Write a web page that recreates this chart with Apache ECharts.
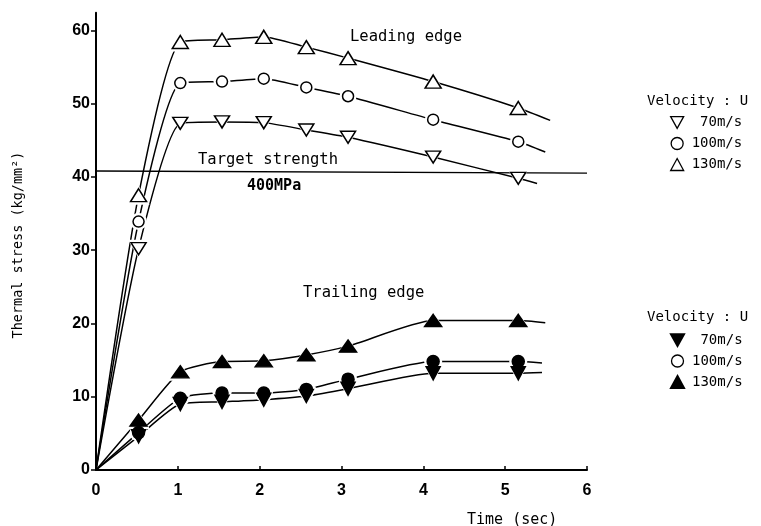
<!DOCTYPE html>
<html><head><meta charset="utf-8">
<script src="https://cdn.jsdelivr.net/npm/echarts@6/dist/echarts.min.js"></script>
<style>html,body{margin:0;padding:0;background:#fff}#c{width:761px;height:526px}</style>
</head><body><div id="c"></div>
<script>
const times = [0, 0.52, 1.03, 1.54, 2.05, 2.57, 3.08, 4.12, 5.16];
// Leading edge thermal stress (kg/mm2)
const lead70  = [0, 30.2, 47.3, 47.5, 47.4, 46.4, 45.4, 42.7, 39.8];
const lead100 = [0, 33.9, 52.8, 53.0, 53.4, 52.2, 51.0, 47.8, 44.8];
const lead130 = [0, 37.5, 58.4, 58.7, 59.1, 57.7, 56.2, 53.0, 49.4];
// Trailing edge thermal stress (kg/mm2)
const trail70  = [0, 4.6, 9.0, 9.3, 9.6, 10.1, 11.1, 13.2, 13.2];
const trail100 = [0, 5.1, 9.8, 10.5, 10.5, 11.0, 12.4, 14.8, 14.8];
const trail130 = [0, 6.8, 13.4, 14.8, 14.9, 15.7, 16.9, 20.4, 20.4];
// curve ends drawn past the last point
const leadTail  = [[5.39, 39.1], [5.49, 43.4], [5.55, 47.7]];
const trailTail = [[5.45, 13.3], [5.45, 14.6], [5.49, 20.1]];
// Target strength line (400MPa)
const targetLine = [[0, 40.8], [6, 40.5]];
const yTicks = [0, 10, 20, 30, 40, 50, 60];
const xTicks = [0, 1, 2, 3, 4, 5, 6];

const MONO = '"DejaVu Sans Mono", "Liberation Mono", monospace';
const SANS = '"Liberation Sans", Arial, sans-serif';
const DOWN_TRI = 'path://M0,0 L10,0 L5,9 Z';

function pts(ys) { return times.map((t, i) => [t, ys[i]]); }

const defs = [
  {name: 'L70',  ys: lead70,  tail: leadTail[0],  symbol: 'triangle', rot: 180, size: [15, 12], fill: '#fff'},
  {name: 'L100', ys: lead100, tail: leadTail[1],  symbol: 'circle',   rot: 0,   size: 11,      fill: '#fff'},
  {name: 'L130', ys: lead130, tail: leadTail[2],  symbol: 'triangle', rot: 0,   size: [16, 13], fill: '#fff'},
  {name: 'T70',  ys: trail70,  tail: trailTail[0], symbol: 'triangle', rot: 180, size: [14, 13], fill: '#000'},
  {name: 'T100', ys: trail100, tail: trailTail[1], symbol: 'circle',   rot: 0,   size: 12,      fill: '#000'},
  {name: 'T130', ys: trail130, tail: trailTail[2], symbol: 'triangle', rot: 0,   size: [17, 12], fill: '#000'}
];

const series = [];
defs.forEach(d => {
  series.push({
    name: d.name + '_line', type: 'line', smooth: 0.2, showSymbol: false, z: 2,
    data: pts(d.ys).concat([d.tail]),
    lineStyle: {color: '#000', width: 1.5}, silent: true
  });
});
series.push({
  name: 'target', type: 'line', showSymbol: false, z: 2, silent: true,
  data: targetLine, lineStyle: {color: '#000', width: 1.3}
});
defs.forEach(d => {
  const hs = Array.isArray(d.size) ? [d.size[0] + 6, d.size[1] + 6] : d.size + 6;
  series.push({
    name: d.name + '_halo', type: 'scatter', z: 3, silent: true,
    symbol: d.symbol, symbolRotate: d.rot, symbolSize: hs,
    data: pts(d.ys).slice(1),
    itemStyle: {color: '#fff', opacity: 1}
  });
});
defs.forEach(d => {
  series.push({
    name: d.name, type: 'scatter', z: 4, silent: true,
    symbol: d.symbol, symbolRotate: d.rot, symbolSize: d.size,
    data: pts(d.ys).slice(1),
    itemStyle: {color: d.fill, borderColor: '#000', borderWidth: 1.5, opacity: 1}
  });
});

const labelMap = {L70: ' 70m/s', L100: '100m/s', L130: '130m/s', T70: ' 70m/s', T100: '100m/s', T130: '130m/s'};
const legendBase = {
  orient: 'vertical', left: 665, itemWidth: 13, itemHeight: 12, itemGap: 0,
  selectedMode: false, formatter: n => labelMap[n],
  textStyle: {fontFamily: MONO, fontSize: 14, color: '#000', lineHeight: 21, padding: [0, 0, 0, 3]}
};

const chart = echarts.init(document.getElementById('c'));
chart.setOption({
  animation: false,
  backgroundColor: '#fff',
  grid: {left: 96, right: 174, top: 12.7, bottom: 56, containLabel: false},
  xAxis: {
    type: 'value', min: 0, max: 6,
    axisLine: {lineStyle: {color: '#000', width: 2}},
    axisTick: {show: true, inside: true, length: 4, lineStyle: {color: '#000', width: 1.5}, customValues: xTicks},
    axisLabel: {color: '#000', fontFamily: SANS, fontSize: 16, fontWeight: 'bold', margin: 13, customValues: xTicks},
    splitLine: {show: false}
  },
  yAxis: {
    type: 'value', min: 0, max: 62.4,
    axisLine: {show: true, lineStyle: {color: '#000', width: 2}},
    axisTick: {show: true, length: 5, lineStyle: {color: '#000', width: 1.5}, customValues: yTicks},
    axisLabel: {color: '#000', fontFamily: SANS, fontSize: 16, fontWeight: 'bold', margin: 6, customValues: yTicks},
    splitLine: {show: false}
  },
  legend: [
    Object.assign({}, legendBase, {top: 107, data: [
      {name: 'L70', icon: DOWN_TRI, itemStyle: {color: '#fff', borderColor: '#000', borderWidth: 1.3}},
      {name: 'L100', itemStyle: {color: '#fff', borderColor: '#000', borderWidth: 1.3}},
      {name: 'L130', itemStyle: {color: '#fff', borderColor: '#000', borderWidth: 1.3}}]}),
    Object.assign({}, legendBase, {top: 324.5, data: [
      {name: 'T70', icon: DOWN_TRI},
      {name: 'T100', itemStyle: {color: '#fff', borderColor: '#000', borderWidth: 1.3}},
      'T130']})
  ],
  graphic: [
    {type: 'text', x: 350, y: 37, style: {text: 'Leading edge', fontFamily: MONO, fontSize: 15.5, fill: '#000', verticalAlign: 'middle'}},
    {type: 'text', x: 198, y: 160, style: {text: 'Target strength', fontFamily: MONO, fontSize: 15.5, fill: '#000', verticalAlign: 'middle'}},
    {type: 'text', x: 247, y: 186, style: {text: '400MPa', fontFamily: MONO, fontSize: 15, fontWeight: 'bold', fill: '#000', verticalAlign: 'middle'}},
    {type: 'text', x: 303, y: 293, style: {text: 'Trailing edge', fontFamily: MONO, fontSize: 15.5, fill: '#000', verticalAlign: 'middle'}},
    {type: 'text', x: 467, y: 520, style: {text: 'Time (sec)', fontFamily: MONO, fontSize: 15, fill: '#000', verticalAlign: 'middle'}},
    {type: 'text', x: 647, y: 101, style: {text: 'Velocity : U', fontFamily: MONO, fontSize: 14, fill: '#000', verticalAlign: 'middle'}},
    {type: 'text', x: 647, y: 317, style: {text: 'Velocity : U', fontFamily: MONO, fontSize: 14, fill: '#000', verticalAlign: 'middle'}},
    {type: 'text', x: 18, y: 245, rotation: Math.PI / 2, style: {text: 'Thermal stress (kg/mm²)', fontFamily: MONO, fontSize: 13.5, fill: '#000', align: 'center', verticalAlign: 'middle'}}
  ],
  series: series
});
</script></body></html>
